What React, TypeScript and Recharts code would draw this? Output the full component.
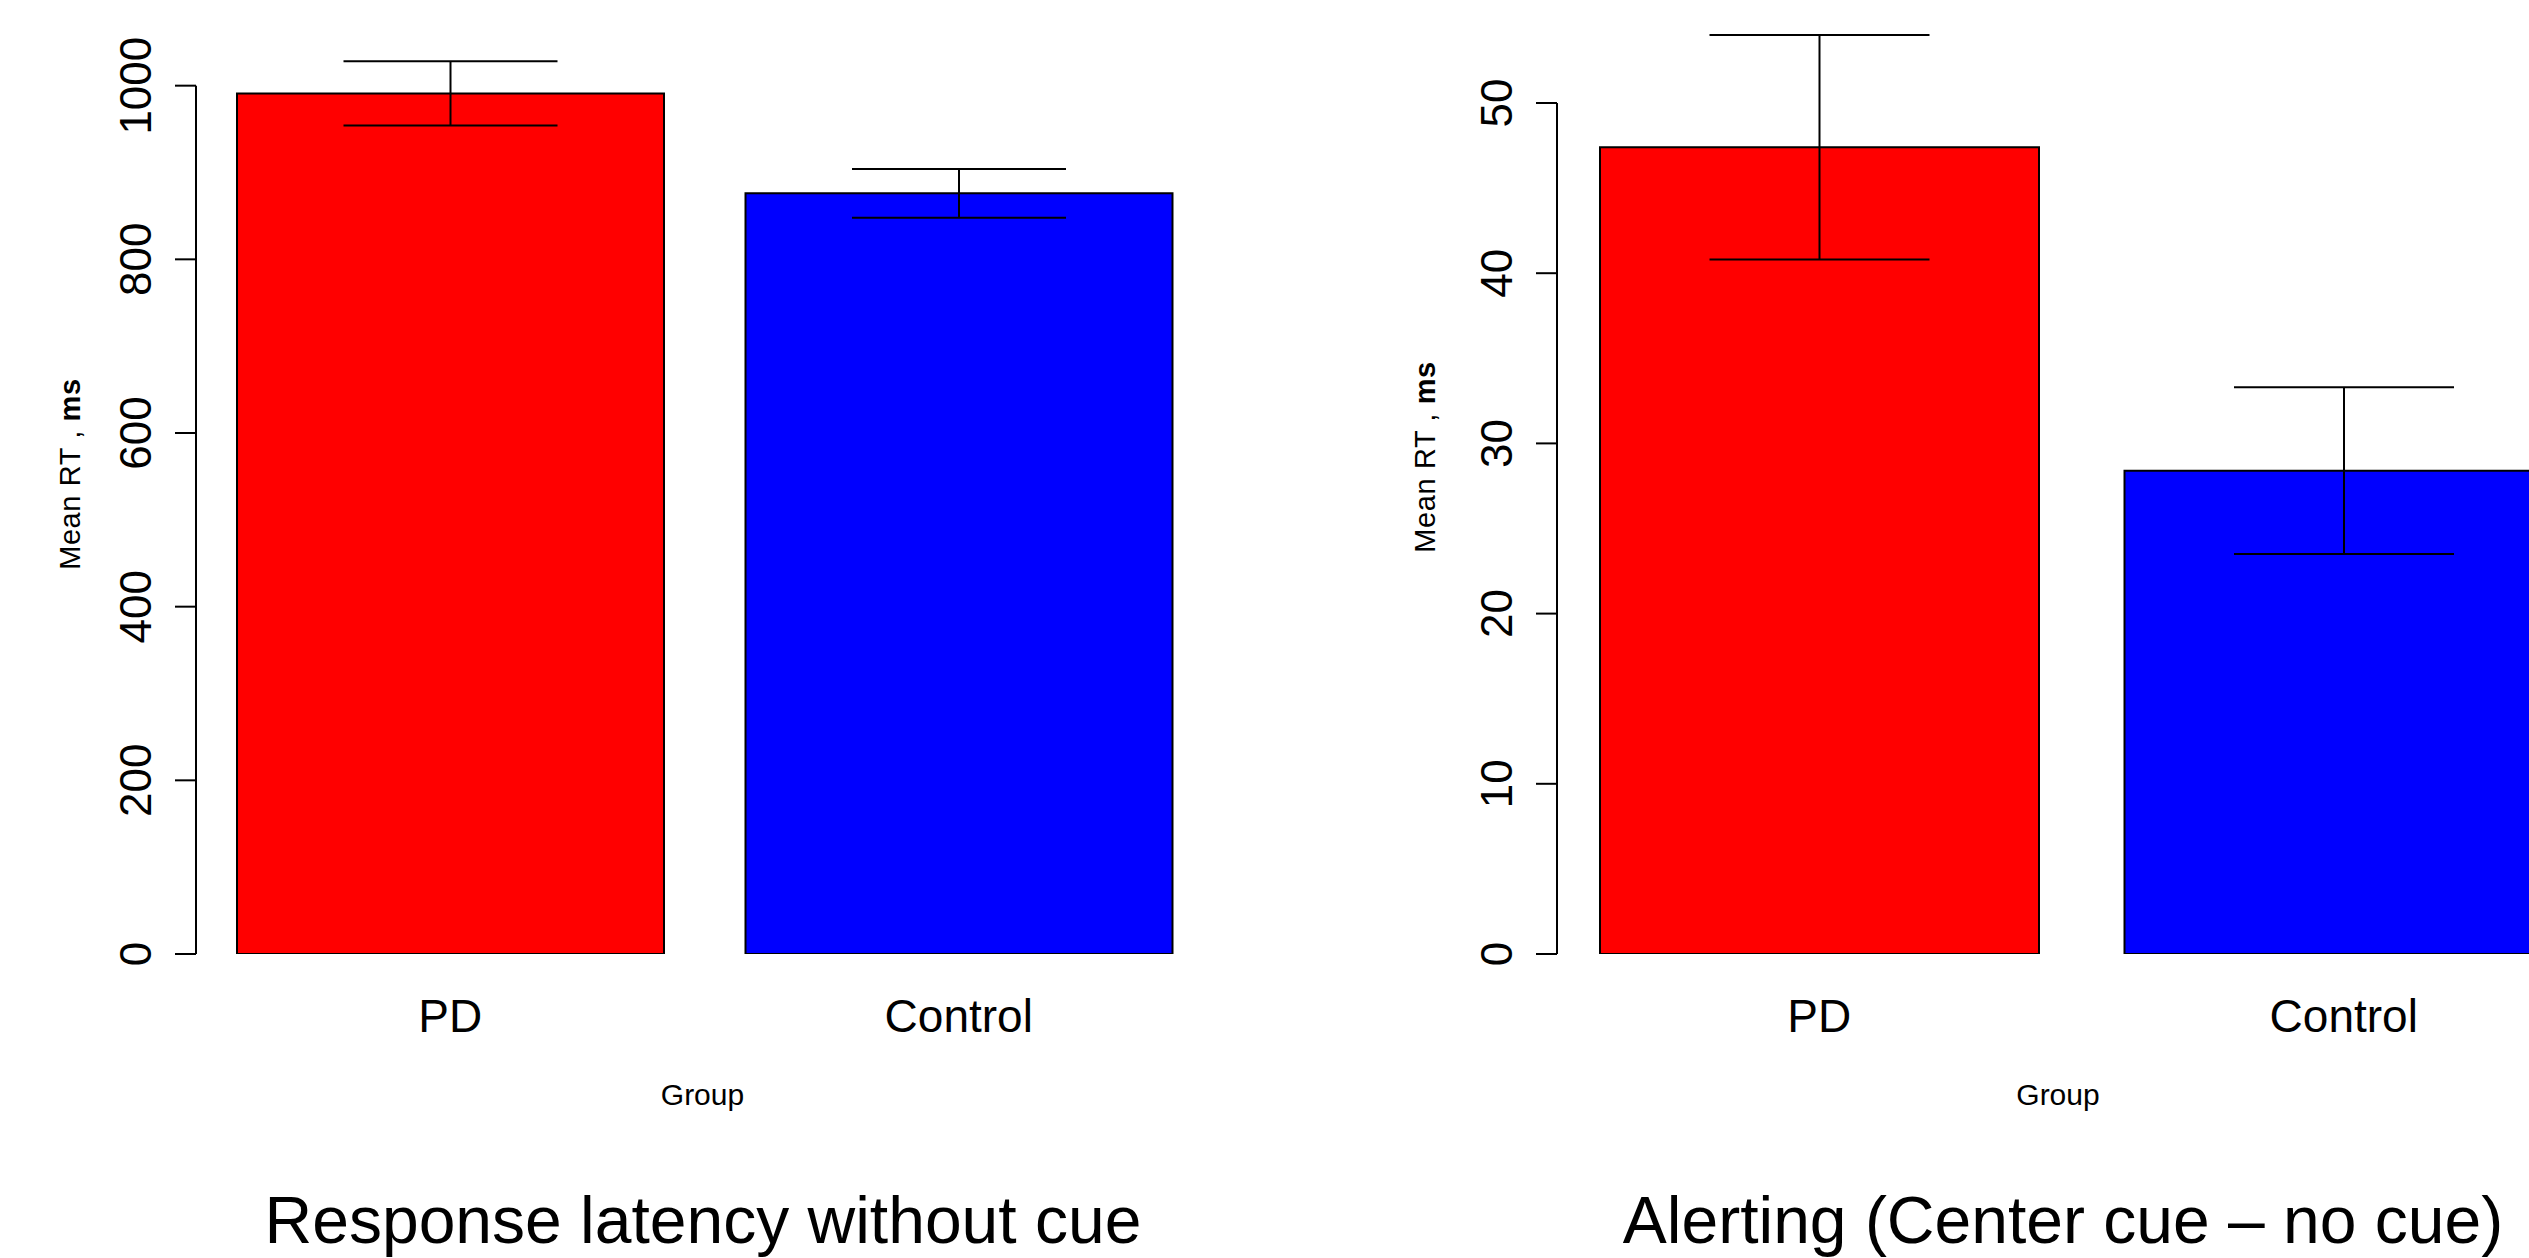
import React from "react";
import {
  BarChart,
  Bar,
  Cell,
  XAxis,
  YAxis,
  ErrorBar,
  ReferenceLine,
  Label,
} from "recharts";

//========== Data ===========

const groups = ["PD", "Control"];
const barColors = ["#FF0000", "#0000FF"];

const latencyMeans = [991, 876];
const latencyErrors = [37, 28];
const latencyTicks = [0, 200, 400, 600, 800, 1000];

const alertingMeans = [47.4, 28.4];
const alertingErrors = [6.6, 4.9];
const alertingTicks = [0, 10, 20, 30, 40, 50];

const FONT = "'Liberation Sans', Arial, Helvetica, sans-serif";

//========== Ticks ===========

const RotatedTick = (props: any) => {
  const { x, y, payload } = props;
  const tx = x - 24;
  return (
    <text
      x={tx}
      y={y}
      transform={`rotate(-90, ${tx}, ${y})`}
      textAnchor="middle"
      fontSize={44}
      fontFamily={FONT}
      fill="#000"
    >
      {payload.value}
    </text>
  );
};

const GroupTick = (props: any) => {
  const { x, y, payload } = props;
  return (
    <text
      x={x}
      y={y + 78}
      textAnchor="middle"
      fontSize={46}
      fontFamily={FONT}
      fill="#000"
    >
      {payload.value}
    </text>
  );
};

//========== Panel ===========

interface PanelProps {
  means: number[];
  errors: number[];
  ticks: number[];
  yMax: number;
  barSize: number;
  capWidth: number;
  title: string;
  width: number;
  axisWidth: number;
  marginTop: number;
  marginRight: number;
  yLabelDx: number;
  yLabelDy: number;
  groupDx: number;
  titleDx: number;
}

const Panel: React.FC<PanelProps> = ({
  means,
  errors,
  ticks,
  yMax,
  barSize,
  capWidth,
  title,
  width,
  axisWidth,
  marginTop,
  marginRight,
  yLabelDx,
  yLabelDy,
  groupDx,
  titleDx,
}) => {
  const data = groups.map((g, i) => ({ group: g, mean: means[i], err: errors[i] }));
  const top = ticks[ticks.length - 1];

  return (
    <BarChart
      width={width}
      height={1258}
      data={data}
      margin={{ top: marginTop, right: marginRight, bottom: 104, left: 0 }}
      barCategoryGap={0}
    >
      <XAxis
        dataKey="group"
        axisLine={false}
        tickLine={false}
        tickSize={0}
        tickMargin={0}
        height={200}
        tick={<GroupTick />}
        interval={0}
      >
        <Label
          content={(p: any) => {
            const vb = p.viewBox;
            const cx = vb.x + vb.width / 2;
            return (
              <g fontFamily={FONT} fill="#000">
                <text x={cx + groupDx} y={vb.y + 151} textAnchor="middle" fontSize={30}>
                  Group
                </text>
                <text x={cx + titleDx} y={vb.y + 289} textAnchor="middle" fontSize={66}>
                  {title}
                </text>
              </g>
            );
          }}
        />
      </XAxis>
      <XAxis xAxisId="frame" type="number" domain={[0, 1]} allowDataOverflow hide />
      <YAxis
        type="number"
        domain={[0, yMax]}
        allowDataOverflow
        ticks={ticks}
        interval={0}
        width={axisWidth}
        axisLine={false}
        tickLine={{ stroke: "#000", strokeWidth: 2 }}
        tickSize={21}
        tickMargin={0}
        tick={<RotatedTick />}
      >
        <Label
          content={(p: any) => {
            const vb = p.viewBox;
            const lx = vb.x + vb.width + yLabelDx;
            const ly = vb.y + vb.height / 2 + yLabelDy;
            return (
              <text
                x={lx}
                y={ly}
                transform={`rotate(-90, ${lx}, ${ly})`}
                textAnchor="middle"
                fontSize={29}
                fontFamily={FONT}
                fill="#000"
                letterSpacing={0.6}
              >
                Mean RT ,{" "}
                <tspan fontWeight="bold">ms</tspan>
              </text>
            );
          }}
        />
      </YAxis>
      <ReferenceLine
        xAxisId="frame"
        segment={[
          { x: 0, y: 0 },
          { x: 0, y: top },
        ]}
        stroke="#000"
        strokeWidth={2}
      />
      <Bar
        dataKey="mean"
        barSize={barSize}
        stroke="#000"
        strokeWidth={2}
        isAnimationActive={false}
      >
        {data.map((d, i) => (
          <Cell key={d.group} fill={barColors[i]} />
        ))}
        <ErrorBar
          dataKey="err"
          width={capWidth}
          stroke="#000"
          strokeWidth={2}
          direction="y"
          isAnimationActive={false}
        />
      </Bar>
    </BarChart>
  );
};

//========== App ===========

const App: React.FC = () => {
  return (
    <div
      style={{
        position: "absolute",
        left: 0,
        top: 0,
        width: 2529,
        height: 1258,
        overflow: "hidden",
        background: "#fff",
      }}
    >
      {/* ====== Response latency ====== */}
      <div style={{ position: "absolute", left: 0, top: 0 }}>
        <Panel
          means={latencyMeans}
          errors={latencyErrors}
          ticks={latencyTicks}
          yMax={1080}
          barSize={427}
          capWidth={107}
          title="Response latency without cue"
          width={1300}
          axisWidth={196}
          marginTop={16.2}
          marginRight={87}
          yLabelDx={-116}
          yLabelDy={-11}
          groupDx={-2}
          titleDx={-1.5}
        />
      </div>

      {/* ====== Alerting ====== */}
      <div style={{ position: "absolute", left: 1300, top: 0 }}>
        <Panel
          means={alertingMeans}
          errors={alertingErrors}
          ticks={alertingTicks}
          yMax={55}
          barSize={439}
          capWidth={110}
          title="Alerting (Center cue – no cue)"
          width={1320}
          axisWidth={257}
          marginTop={17.9}
          marginRight={14}
          yLabelDx={-122}
          yLabelDy={-29}
          groupDx={-23.5}
          titleDx={-18.5}
        />
      </div>
    </div>
  );
};

export default App;
